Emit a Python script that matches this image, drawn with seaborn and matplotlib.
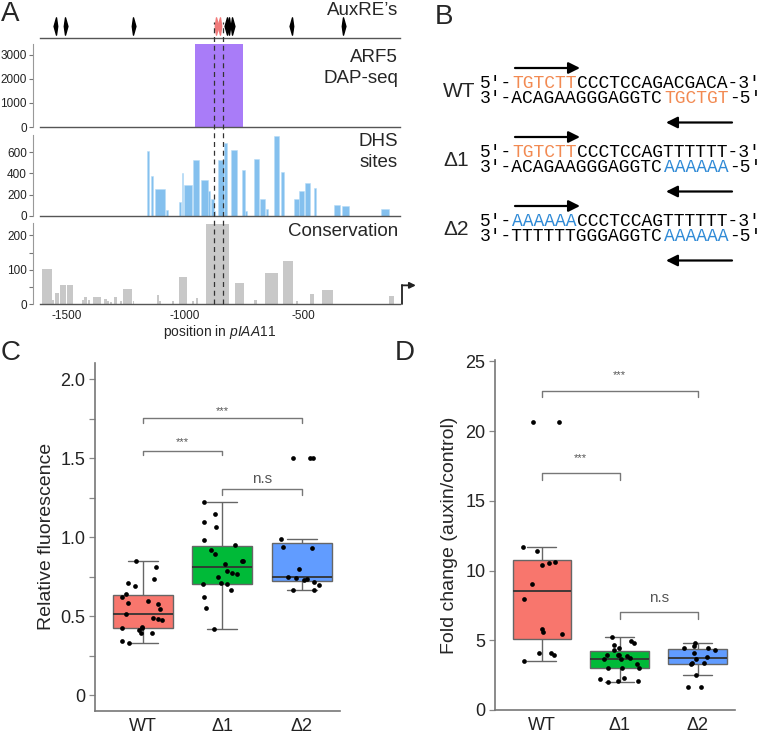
import numpy as np
import pandas as pd
import matplotlib
matplotlib.use("Agg")
import matplotlib.pyplot as plt
from matplotlib.path import Path
import seaborn as sns

sns.set_style("ticks")
plt.rcParams['font.family'] = ['Liberation Sans', 'DejaVu Sans']
plt.rcParams['mathtext.fontset'] = 'custom'
plt.rcParams['mathtext.rm'] = 'Liberation Sans'
plt.rcParams['mathtext.it'] = 'Liberation Sans:italic'

# ---------------- panel A data (bp relative to TSS) ----------------
auxre_pos = [-1546, -1508, -1221, -821, -812, -800, -546, -331]
auxre_dir = ['<', '>', '>', '<', '<', '>', '<', '>']
auxre_red_pos = [-870, -852]
auxre_red_dir = ['>', '<']
dashed_pos = [-877, -839]

dap_start = [-956]
dap_end = [-757]
dap_height = [3450]

dhs_start = [-1159, -1145, -1127, -1082, -1025, -1014, -1004, -966, -931, -902,
             -889, -877, -861, -834, -806, -759, -747, -707, -684, -659,
             -623, -594, -540, -518, -494, -455, -371, -338, -172]
dhs_end = [-1152, -1136, -1084, -1071, -1017, -1007, -969, -941, -902, -894,
           -877, -872, -834, -824, -782, -747, -737, -687, -662, -648,
           -603, -582, -518, -497, -472, -448, -345, -307, -137]
dhs_height = [614, 375, 254, 56, 133, 406, 291, 530, 341, 236,
              164, 50, 530, 685, 623, 434, 50, 539, 155, 65,
              747, 415, 164, 239, 307, 264, 100, 93, 68]

cons_start = [-1605, -1563, -1549, -1527, -1496, -1436, -1425, -1409, -1387, -1342,
              -1328, -1317, -1300, -1275, -1261, -1221, -1120, -1109, -1056, -1025,
              -969, -955, -911, -789, -708, -662, -586, -531, -471, -421, -137]
cons_end = [-1563, -1553, -1531, -1502, -1474, -1428, -1415, -1401, -1355, -1331,
            -1320, -1307, -1286, -1266, -1225, -1214, -1109, -1101, -1045, -990,
            -962, -944, -812, -751, -697, -608, -542, -524, -454, -376, -116]
cons_height = [103, 13, 34, 56, 56, 13, 20, 13, 20, 16,
               11, 8, 20, 11, 44, 11, 26, 9, 9, 80,
               11, 17, 234, 63, 13, 91, 126, 9, 29, 42, 23]

# ---------------- panel B data ----------------
seq_labels = ['WT', 'Δ1', 'Δ2']
seq_top = [['5′-', 'TGTCTT', 'CCCTCCAGACGACA-3′'],
           ['5′-', 'TGTCTT', 'CCCTCCAGTTTTTT-3′'],
           ['5′-', 'AAAAAA', 'CCCTCCAGTTTTTT-3′']]
seq_bot = [['3′-ACAGAAGGGAGGTC', 'TGCTGT', '-5′'],
           ['3′-ACAGAAGGGAGGTC', 'AAAAAA', '-5′'],
           ['3′-TTTTTTGGGAGGTC', 'AAAAAA', '-5′']]
seq_top_col = ['#f28a52', '#f28a52', '#2f8ad6']
seq_bot_col = ['#f28a52', '#2f8ad6', '#2f8ad6']

# ---------------- panel C / D data ----------------
genotypes = ['WT', 'Δ1', 'Δ2']
fluor_wt = [0.331, 0.344, 0.392, 0.392, 0.414, 0.424, 0.424, 0.431, 0.477, 0.485, 0.487,
            0.515, 0.546, 0.576, 0.587, 0.599, 0.624, 0.641, 0.694, 0.709, 0.738, 0.814, 0.848]
fluor_d1 = [0.42, 0.551, 0.624, 0.666, 0.704, 0.704, 0.713, 0.751, 0.768, 0.772, 0.789,
            0.831, 0.852, 0.852, 0.894, 0.920, 0.951, 0.983, 1.067, 1.099, 1.146, 1.225]
fluor_d2 = [0.665, 0.665, 0.70, 0.719, 0.731, 0.734, 0.741, 0.751, 0.797, 0.930, 0.94,
            0.987, 1.5, 1.5, 1.5]
fold_wt = [3.52, 3.95, 4.07, 4.12, 5.44, 5.56, 5.79, 7.97, 9.05, 10.37, 10.56, 10.58,
           11.37, 11.66, 20.64, 20.64]
fold_d1 = [1.99, 2.11, 2.11, 2.20, 2.32, 2.99, 2.99, 2.99, 3.30, 3.64, 3.66, 3.70,
           3.88, 3.93, 3.93, 3.93, 4.31, 4.48, 4.67, 4.84, 4.98, 5.22]
fold_d2 = [1.65, 1.65, 2.51, 3.30, 3.35, 3.40, 3.64, 3.83, 4.07, 4.31, 4.43, 4.43,
           4.60, 4.79]
box_colors = ['#f8766d', '#00ba38', '#619cff']

W, H = 762, 735
fig = plt.figure(figsize=(W / 100, H / 100), dpi=100)


def box(x0, y0, x1, y1):
    return [x0 / W, 1 - y1 / H, (x1 - x0) / W, (y1 - y0) / H]


ov = fig.add_axes([0, 0, 1, 1])
ov.set_xlim(0, W)
ov.set_ylim(H, 0)
ov.axis('off')

# ---------------- panel A ----------------
XLIM = (-1612, -92)
ax_aux = fig.add_axes(box(40, 5, 400, 37.7))
ax_dap = fig.add_axes(box(40, 44, 400, 127))
ax_dhs = fig.add_axes(box(40, 135, 400, 216))
ax_con = fig.add_axes(box(40, 223, 400, 304.3))

for ax in [ax_aux, ax_dap, ax_dhs, ax_con]:
    ax.set_xlim(*XLIM)
    ax.patch.set_alpha(0)
    for s in ['top', 'right']:
        ax.spines[s].set_visible(False)
    ax.spines['bottom'].set_color('#555555')
    ax.spines['bottom'].set_linewidth(1.0)
    ax.spines['left'].set_position(('outward', 5))
    ax.spines['left'].set_color('#999999')
    ax.spines['left'].set_linewidth(0.8)
    ax.tick_params(axis='y', labelsize=8.5, length=3, width=0.8, color='#777777',
                   labelcolor='#222222', pad=1.5)
    ax.tick_params(axis='x', length=0)
    ax.set_xticks([])

ax_aux.spines['left'].set_visible(False)
ax_aux.set_yticks([])
ax_aux.set_ylim(0, 1)


def dart(direction):
    if direction == '>':
        v = [(0, 1), (0.28, 0), (0, -1), (-0.14, 0), (0, 1)]
    else:
        v = [(0, 1), (0.14, 0), (0, -1), (-0.28, 0), (0, 1)]
    return Path(v, [Path.MOVETO, Path.LINETO, Path.LINETO, Path.LINETO, Path.CLOSEPOLY])


for p, d in zip(auxre_pos, auxre_dir):
    ax_aux.plot([p], [0.36], marker=dart(d), ms=12.5, color='black', ls='none', clip_on=False)
for p, d in zip(auxre_red_pos, auxre_red_dir):
    ax_aux.plot([p], [0.36], marker=dart(d), ms=12.5, color='#f07a7a', ls='none', clip_on=False)

ax_dap.bar(dap_start, dap_height, width=np.subtract(dap_end, dap_start), align='edge',
           color='#a97cf8', edgecolor='none')
ax_dap.set_ylim(0, 3450)
ax_dap.set_yticks([0, 1000, 2000, 3000])

ax_dhs.bar(dhs_start, dhs_height, width=np.subtract(dhs_end, dhs_start), align='edge',
           color='#84c0ee', edgecolor='#b8dcf7', linewidth=0.4)
ax_dhs.set_ylim(0, 760)
ax_dhs.set_yticks([0, 200, 400, 600])

ax_con.bar(cons_start, cons_height, width=np.subtract(cons_end, cons_start), align='edge',
           color='#c8c8c8', edgecolor='none')
ax_con.set_ylim(0, 236)
ax_con.set_yticks([0, 100, 200])
ax_con.set_yticks([50, 150], minor=True)
ax_con.tick_params(axis='y', which='minor', length=3, width=0.8, color='#777777')
ax_con.set_xticks([-1500, -1000, -500])
ax_con.set_xticklabels(['-1500', '-1000', '-500'])
ax_con.tick_params(axis='x', length=0, labelsize=8.5, pad=4, labelcolor='#222222')
ax_con.set_xlabel('position in $\\mathit{pIAA11}$', fontsize=10, labelpad=1)

# TSS arrow
ax_con.plot([-83, -83], [0, 55], color='#222222', lw=1.3, clip_on=False)
ax_con.annotate('', xy=(-25, 55), xytext=(-84, 55), xycoords='data',
                arrowprops=dict(arrowstyle='-|>', color='#222222', lw=1.3,
                                mutation_scale=9, shrinkA=0, shrinkB=0),
                annotation_clip=False)

for p in dashed_pos:
    ax_con.axvline(p, ymin=0, ymax=(304.3 - 22) / 81.3, color='#333333', lw=0.9,
                   ls=(0, (4, 3)), clip_on=False, zorder=5)

fs_lab = 13.5
ov.text(398, 10, 'AuxRE’s', fontsize=fs_lab, ha='right', va='center')
ov.text(398, 57, 'ARF5', fontsize=fs_lab, ha='right', va='center')
ov.text(398, 78.5, 'DAP-seq', fontsize=fs_lab, ha='right', va='center')
ov.text(398, 141, 'DHS', fontsize=fs_lab, ha='right', va='center')
ov.text(398, 162.5, 'sites', fontsize=fs_lab, ha='right', va='center')
ov.text(398, 231.5, 'Conservation', fontsize=fs_lab, ha='right', va='center')

# ---------------- panel B ----------------
fs_seq = 13
cw = fs_seq * 100 / 72 * 0.6
x0 = 480
row_y = [83, 152, 221]
for i in range(3):
    y1 = row_y[i]
    y2 = y1 + 15.5
    ov.text(443, (y1 + y2) / 2 + 1, seq_labels[i], fontsize=15, ha='left', va='center')
    xpos = x0
    for j, seg in enumerate(seq_top[i]):
        ov.text(xpos, y1, seg, fontsize=fs_seq, family='Liberation Mono', ha='left',
                va='center', color=seq_top_col[i] if j == 1 else 'black')
        xpos += len(seg) * cw
    xpos = x0
    for j, seg in enumerate(seq_bot[i]):
        ov.text(xpos, y2, seg, fontsize=fs_seq, family='Liberation Mono', ha='left',
                va='center', color=seq_bot_col[i] if j == 1 else 'black')
        xpos += len(seg) * cw
    ov.annotate('', xy=(580, y1 - 15), xytext=(515, y1 - 15),
                arrowprops=dict(arrowstyle='-|>', color='black', lw=1.6,
                                mutation_scale=17, shrinkA=0, shrinkB=0))
    ov.annotate('', xy=(666, y2 + 24), xytext=(732, y2 + 24),
                arrowprops=dict(arrowstyle='-|>', color='black', lw=1.6,
                                mutation_scale=17, shrinkA=0, shrinkB=0))

# ---------------- panels C & D ----------------
df_c = pd.DataFrame({'genotype': ['WT'] * len(fluor_wt) + ['Δ1'] * len(fluor_d1) + ['Δ2'] * len(fluor_d2),
                     'value': fluor_wt + fluor_d1 + fluor_d2})
df_d = pd.DataFrame({'genotype': ['WT'] * len(fold_wt) + ['Δ1'] * len(fold_d1) + ['Δ2'] * len(fold_d2),
                     'value': fold_wt + fold_d1 + fold_d2})

ax_c = fig.add_axes(box(95, 363, 340, 710.7))
ax_d = fig.add_axes(box(495, 360, 735, 710))


def box_strip(ax, df, seed):
    sns.boxplot(data=df, x='genotype', y='value', hue='genotype', order=genotypes,
                hue_order=genotypes, palette=box_colors, saturation=1, width=0.75,
                showfliers=False, linecolor='#666666', linewidth=1.0, legend=False, ax=ax,
                medianprops=dict(color='#333333', linewidth=1.3))
    np.random.seed(seed)
    sns.stripplot(data=df, x='genotype', y='value', order=genotypes, color='black',
                  size=3.4, jitter=0.27, ax=ax)
    ax.set_xlim(-0.6, 2.48)
    ax.set_xlabel('')
    sns.despine(ax=ax)
    for s in ['left', 'bottom']:
        ax.spines[s].set_color('#777777')
        ax.spines[s].set_linewidth(1.2)
    ax.tick_params(axis='x', length=0, labelsize=13, pad=5, labelcolor='#222222')
    ax.tick_params(axis='y', length=4, width=0.9, color='#888888', labelsize=13,
                   labelcolor='#222222', pad=3)


def bracket(ax, a, b, y, tip, label, ty, fs):
    ax.plot([a, a, b, b], [y - tip, y, y, y - tip], color='#777777', lw=1.0)
    ax.text((a + b) / 2, ty, label, ha='center', va='center', fontsize=fs, color='#555555')


box_strip(ax_c, df_c, 11)
ax_c.set_ylim(-0.097, 2.103)
ax_c.set_yticks(np.arange(0, 2.01, 0.25))
ax_c.set_yticklabels(['0', '', '0.5', '', '1.0', '', '1.5', '', '2.0'])
ax_c.set_ylabel('Relative fluorescence', fontsize=14, labelpad=4)
bracket(ax_c, 0, 2, 1.753, 0.03, '***', 1.80, 8)
bracket(ax_c, 0, 1, 1.548, 0.03, '***', 1.605, 8)
bracket(ax_c, 1, 2, 1.304, 0.035, 'n.s', 1.367, 11)

box_strip(ax_d, df_d, 7)
ax_d.set_ylim(0, 25.1)
ax_d.set_yticks([0, 5, 10, 15, 20, 25])
ax_d.set_ylabel('Fold change (auxin/control)', fontsize=14, labelpad=5)
bracket(ax_d, 0, 2, 22.9, 0.45, '***', 24.0, 8)
bracket(ax_d, 0, 1, 17.0, 0.5, '***', 18.1, 8)
bracket(ax_d, 1, 2, 7.0, 0.5, 'n.s', 8.0, 11)

# panel letters
for lab, x, y in [('A', 10, 14), ('B', 444, 17), ('C', 11, 353), ('D', 405, 353)]:
    ov.text(x, y, lab, fontsize=20, ha='center', va='center')

fig.savefig('out.png', dpi=100)
